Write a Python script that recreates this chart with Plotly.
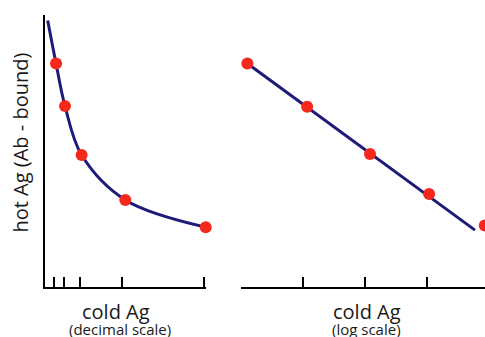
import plotly.graph_objects as go

# ---- data ----
# left panel: decimal scale
dec_ticks = [1, 2, 3.7, 8.2, 17]
dec_x = [1.18, 2.14, 3.92, 8.59, 17.19]
dec_y = [82.2, 66.5, 48.5, 32.0, 22.0]
dec_curve_x = [0.29, 1.18, 2.14, 3.92, 8.59, 17.19]
dec_curve_y = [98.0, 82.2, 66.5, 48.5, 32.0, 22.0]

# right panel: log scale
log_ticks = [1, 10, 100, 1000, 10000]
log_x = [1.28, 11.7, 120, 1070, 8400]
log_y = [82.2, 66.3, 48.9, 34.2, 22.6]
fit_x = [1.28, 5850]
fit_y = [82.2, 20.9]

W, H = 485, 337
NAVY = "#1d1a78"
RED = "#f5281c"
FONT = "Open Sans, Lato, sans-serif"

def px(x):
    return x / W

def py(y):
    return 1 - y / H

fig = go.Figure()

fig.add_trace(go.Scatter(x=dec_curve_x, y=dec_curve_y, mode="lines",
                         line=dict(color=NAVY, width=3, shape="spline", smoothing=1.0),
                         xaxis="x", yaxis="y", cliponaxis=False, hoverinfo="skip"))
fig.add_trace(go.Scatter(x=dec_x, y=dec_y, mode="markers",
                         marker=dict(color=RED, size=12),
                         xaxis="x", yaxis="y", cliponaxis=False))
fig.add_trace(go.Scatter(x=fit_x, y=fit_y, mode="lines",
                         line=dict(color=NAVY, width=3),
                         xaxis="x2", yaxis="y2", cliponaxis=False, hoverinfo="skip"))
fig.add_trace(go.Scatter(x=log_x, y=log_y, mode="markers",
                         marker=dict(color=RED, size=12),
                         xaxis="x2", yaxis="y2", cliponaxis=False))

ydom = [py(287), py(15)]

fig.update_layout(
    width=W, height=H,
    margin=dict(l=0, r=0, t=0, b=0),
    paper_bgcolor="white", plot_bgcolor="white",
    showlegend=False,
    xaxis=dict(domain=[px(45), px(205.8)], range=[0, 17.2], tickvals=dec_ticks,
               showticklabels=False, ticks="inside", ticklen=10, tickwidth=1.5,
               tickcolor="black", showline=True, linecolor="black", linewidth=2,
               showgrid=False, zeroline=False, fixedrange=True),
    yaxis=dict(domain=ydom, range=[0, 100], showticklabels=False, ticks="",
               showline=True, linecolor="black", linewidth=2,
               showgrid=False, zeroline=False, fixedrange=True),
    xaxis2=dict(domain=[px(240.7), 1.0], type="log", range=[0, 3.928],
                tickvals=log_ticks, showticklabels=False, ticks="inside",
                ticklen=10, tickwidth=1.5, tickcolor="black",
                showline=True, linecolor="black", linewidth=2,
                showgrid=False, zeroline=False, fixedrange=True),
    yaxis2=dict(domain=ydom, range=[0, 100], anchor="x2", visible=False,
                fixedrange=True),
)

def ann(text, x, y, size, angle=0):
    fig.add_annotation(text=text, x=px(x), y=py(y), xref="paper", yref="paper",
                       showarrow=False, textangle=angle,
                       font=dict(family=FONT, size=size, color="#1a1a1a"),
                       xanchor="center", yanchor="middle")

ann("hot Ag (Ab - bound)", 20, 142.5, 20, -90)
ann("cold Ag", 115.8, 311, 20)
ann("(decimal scale)", 119.5, 329, 15)
ann("cold Ag", 366.7, 311, 20)
ann("(log scale)", 366, 329, 15)

fig.write_html("out.html", config={"displayModeBar": False},
               post_script="document.body.style.margin='0';")
